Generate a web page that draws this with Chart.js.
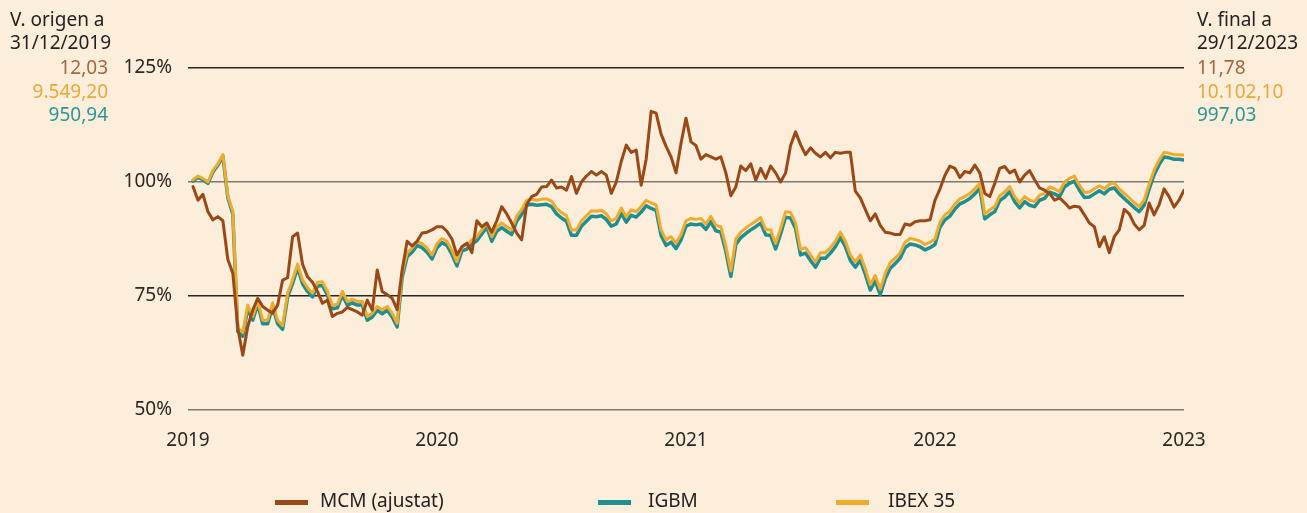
<!DOCTYPE html>
<html lang="ca">
<head>
  <meta charset="UTF-8">
  <title>MCM vs IGBM vs IBEX 35</title>
  <script src="https://cdn.jsdelivr.net/npm/chart.js@4.4.1/dist/chart.umd.min.js"></script>
  <style>
    html, body {
      margin: 0;
      padding: 0;
      background: #fdeedb;
    }
    #wrap {
      width: 1307px;
      height: 513px;
      position: relative;
    }
  </style>
</head>
<body>
  <div id="wrap"><canvas id="chart"></canvas></div>

  <script>
    // weekly-ish samples, base 100 = 31/12/2019
    const years = ['2019', '2020', '2021', '2022', '2023'];
    const perYear = 50;

    const mcm = [null,
      99.0, 96.0, 97.3, 93.5, 91.7, 92.4, 91.5, 83.0, 80.0, 68.0,
      62.0, 68.3, 71.9, 74.5, 72.7, 71.9, 71.2, 73.0, 78.5, 79.0,
      88.0, 88.8, 82.0, 79.2, 78.0, 76.0, 73.4, 74.1, 70.5, 71.2,
      71.5, 72.5, 72.0, 71.5, 70.8, 74.1, 71.9, 80.7, 76.0, 75.3,
      74.5, 72.0, 80.7, 87.0, 86.0, 87.0, 88.8, 89.0, 89.5, 90.2,
      90.2, 89.2, 87.5, 84.0, 85.8, 86.6, 84.5, 91.5, 90.2, 91.0,
      89.0, 91.5, 94.6, 93.0, 91.0, 88.8, 87.3, 95.0, 96.8, 97.3,
      98.9, 99.0, 100.4, 98.7, 98.9, 98.2, 101.2, 97.5, 100.0, 101.3,
      102.3, 101.5, 102.3, 101.5, 97.5, 100.0, 104.5, 108.1, 106.5, 107.0,
      99.3, 105.0, 115.5, 115.1, 110.5, 107.8, 105.5, 102.0, 108.5, 114.0,
      108.8, 108.0, 105.0, 106.0, 105.5, 105.0, 105.5, 102.0, 97.0, 98.9,
      103.5, 102.5, 104.0, 100.4, 103.0, 100.8, 103.5, 102.0, 100.0, 102.0,
      108.0, 111.0, 108.2, 106.0, 107.5, 106.3, 105.5, 106.5, 105.3, 106.5,
      106.3, 106.5, 106.5, 98.0, 96.5, 94.0, 91.5, 93.0, 90.5, 89.0,
      88.8, 88.5, 88.5, 90.8, 90.5, 91.3, 91.5, 91.5, 91.7, 96.0,
      98.5, 101.5, 103.5, 103.0, 101.0, 102.3, 102.0, 103.7, 102.0, 97.5,
      96.8, 99.7, 103.0, 103.4, 102.0, 102.6, 100.0, 101.5, 102.5, 100.5,
      98.7, 98.2, 97.5, 96.0, 96.5, 95.5, 94.3, 94.7, 94.5, 92.8,
      91.0, 90.2, 85.8, 88.0, 84.5, 88.0, 89.5, 94.0, 93.0, 90.8,
      89.5, 90.5, 95.4, 92.8, 95.0, 98.5, 96.8, 94.5, 96.0, 98.2
    ];

    const ibex = [null,
      100.5, 101.3, 100.8, 100.0, 102.5, 104.0, 106.0, 97.0, 93.5, 68.0,
      67.0, 73.0, 70.5, 74.0, 69.7, 69.7, 73.5, 69.7, 68.5, 75.6,
      78.5, 82.0, 78.5, 76.8, 75.6, 78.0, 78.1, 76.0, 73.0, 73.2,
      76.0, 73.8, 74.3, 73.8, 73.8, 70.5, 71.2, 72.7, 71.9, 72.7,
      71.2, 69.0, 80.0, 84.5, 85.5, 87.0, 86.5, 85.5, 84.0, 86.5,
      87.6, 87.0, 85.0, 82.5, 85.8, 86.2, 87.3, 88.0, 89.5, 91.0,
      88.0, 90.2, 91.0, 90.2, 89.5, 92.5, 94.0, 96.0, 96.2, 96.0,
      96.2, 96.3, 95.8, 94.2, 93.3, 92.6, 89.5, 89.5, 91.5, 92.6,
      93.7, 93.6, 93.8, 93.0, 91.5, 92.0, 94.3, 92.4, 93.9, 93.5,
      94.6, 96.0, 95.4, 95.0, 89.5, 87.3, 88.0, 86.6, 88.5, 91.5,
      92.0, 91.8, 92.0, 90.8, 92.5, 90.5, 90.2, 86.0, 80.5, 87.5,
      89.0, 89.9, 90.7, 91.4, 92.2, 89.6, 89.5, 86.5, 89.8, 93.5,
      93.3, 91.0, 85.2, 85.6, 84.0, 82.5, 84.5, 84.5, 85.6, 87.0,
      89.0, 87.0, 84.0, 82.5, 84.0, 81.0, 77.5, 79.5, 76.5, 80.0,
      82.3, 83.3, 84.5, 86.8, 87.6, 87.4, 87.0, 86.3, 86.8, 87.5,
      91.2, 92.8, 93.6, 95.2, 96.3, 96.8, 97.5, 98.5, 99.7, 93.0,
      93.9, 94.6, 97.0, 97.8, 99.0, 96.8, 95.4, 96.8, 96.0, 95.7,
      97.1, 97.5, 98.9, 98.5, 97.9, 100.0, 100.8, 101.3, 99.3, 97.7,
      97.8, 98.5, 99.2, 98.5, 99.5, 99.8, 98.5, 97.5, 96.5, 95.5,
      94.6, 96.0, 99.5, 102.6, 104.8, 106.5, 106.3, 106.0, 106.0, 105.9
    ];

    const igbm = [null,
      100.2, 101.0, 100.5, 99.7, 102.2, 103.7, 105.7, 96.6, 92.9, 67.2,
      66.2, 72.2, 69.7, 73.2, 68.9, 68.9, 72.7, 68.9, 67.7, 74.8,
      77.7, 81.2, 77.7, 76.0, 74.8, 77.2, 77.3, 75.2, 72.2, 72.4,
      75.2, 73.0, 73.5, 73.0, 73.0, 69.7, 70.4, 71.9, 71.1, 71.9,
      70.4, 68.2, 79.1, 83.6, 84.6, 86.1, 85.6, 84.6, 83.1, 85.6,
      86.7, 86.1, 84.1, 81.6, 84.9, 85.3, 86.4, 87.1, 88.6, 90.1,
      87.0, 89.2, 90.0, 89.2, 88.5, 91.4, 92.9, 94.9, 95.1, 94.9,
      95.0, 95.1, 94.6, 93.0, 92.1, 91.4, 88.3, 88.3, 90.3, 91.4,
      92.5, 92.4, 92.6, 91.8, 90.3, 90.8, 93.1, 91.2, 92.7, 92.3,
      93.4, 94.8, 94.2, 93.8, 88.3, 86.1, 86.8, 85.4, 87.3, 90.3,
      90.8, 90.6, 90.8, 89.6, 91.3, 89.3, 89.0, 84.8, 79.3, 86.3,
      87.8, 88.7, 89.5, 90.2, 91.0, 88.4, 88.3, 85.3, 88.6, 92.3,
      92.1, 89.8, 84.0, 84.4, 82.8, 81.3, 83.3, 83.3, 84.4, 85.8,
      87.8, 85.8, 82.8, 81.3, 82.8, 79.8, 76.3, 78.3, 75.3, 78.8,
      81.1, 82.1, 83.3, 85.6, 86.4, 86.2, 85.8, 85.1, 85.6, 86.3,
      90.1, 91.7, 92.5, 94.1, 95.2, 95.7, 96.4, 97.4, 98.6, 91.9,
      92.8, 93.5, 95.9, 96.7, 97.9, 95.7, 94.3, 95.7, 94.9, 94.6,
      96.0, 96.4, 97.8, 97.4, 96.8, 98.9, 99.7, 100.2, 98.2, 96.6,
      96.7, 97.4, 98.1, 97.4, 98.4, 98.7, 97.4, 96.4, 95.4, 94.4,
      93.5, 94.9, 98.4, 101.6, 103.8, 105.5, 105.3, 105.0, 105.0, 104.8
    ];

    const seriesNames = ['MCM (ajustat)', 'IBEX 35', 'IGBM'];
    const startValues = ['12,03', '9.549,20', '950,94'];   // MCM, IBEX, IGBM
    const endValues = ['11,78', '10.102,10', '997,03'];
    const yTicks = [50, 75, 100, 125];

    const colors = {
      mcm: '#9a4916',
      ibex: '#f0ab2c',
      igbm: '#1f8e8e'
    };
    const textColors = ['#a7663f', '#eba838', '#2b9696'];
    const FONT = '"Noto Sans", sans-serif';

    const labels = mcm.map((_, i) => i);

    // header values + custom legend
    const extras = {
      id: 'extras',
      afterDraw(chart) {
        const ctx = chart.ctx;
        ctx.save();
        ctx.font = '19px ' + FONT;
        ctx.textBaseline = 'middle';
        // left block
        ctx.fillStyle = '#222';
        ctx.textAlign = 'left';
        ctx.fillText('V. origen a', 10, 21);
        ctx.fillText('31/12/2019', 10, 44);
        ctx.textAlign = 'right';
        const ys = [69, 93, 116];
        startValues.forEach((v, i) => {
          ctx.fillStyle = textColors[i];
          ctx.fillText(v, 108, ys[i]);
        });
        // right block
        ctx.textAlign = 'left';
        ctx.fillStyle = '#222';
        ctx.fillText('V. final a', 1197, 21);
        ctx.fillText('29/12/2023', 1197, 44);
        endValues.forEach((v, i) => {
          ctx.fillStyle = textColors[i];
          ctx.fillText(v, 1197, ys[i]);
        });
        // legend
        const items = [
          { label: seriesNames[0], color: colors.mcm, x: 275, tx: 320 },
          { label: seriesNames[2], color: colors.igbm, x: 598, tx: 648 },
          { label: seriesNames[1], color: colors.ibex, x: 836, tx: 888 }
        ];
        items.forEach(it => {
          ctx.fillStyle = it.color;
          ctx.fillRect(it.x, 500, 33, 5);
          ctx.fillStyle = '#222';
          ctx.fillText(it.label, it.tx, 502);
        });
        ctx.restore();
      }
    };

    const gridColor = v => (v === 125 || v === 75) ? '#262320' : '#7c7872';

    new Chart(document.getElementById('chart'), {
      type: 'line',
      plugins: [extras],
      data: {
        labels,
        datasets: [
          { label: seriesNames[0], data: mcm, borderColor: colors.mcm, borderWidth: 3 },
          { label: seriesNames[1], data: ibex, borderColor: colors.ibex, borderWidth: 3 },
          { label: seriesNames[2], data: igbm, borderColor: colors.igbm, borderWidth: 3.5 }
        ]
      },
      options: {
        responsive: true,
        maintainAspectRatio: false,
        animation: false,
        layout: { padding: { top: 68, right: 123, left: 0, bottom: 0 } },
        elements: {
          point: { radius: 0 },
          line: { tension: 0, borderJoinStyle: 'round', borderCapStyle: 'round' }
        },
        plugins: {
          legend: { display: false },
          tooltip: { enabled: false }
        },
        scales: {
          x: {
            type: 'linear',
            min: 0,
            max: perYear * (years.length - 1),
            border: { display: false },
            grid: { display: false },
            afterFit(scale) { scale.height = 103; },
            afterBuildTicks(scale) {
              scale.ticks = years.map((_, i) => ({ value: i * perYear }));
            },
            ticks: {
              padding: 11,
              maxRotation: 0,
              color: '#2a2724',
              font: { family: FONT, size: 19 },
              callback: v => years[v / perYear]
            }
          },
          y: {
            min: 50,
            max: 125,
            border: { display: false },
            afterFit(scale) { scale.width = 188; },
            afterBuildTicks(scale) {
              scale.ticks = yTicks.map(v => ({ value: v }));
            },
            grid: {
              drawTicks: false,
              color: ctx => gridColor(ctx.tick.value),
              lineWidth: 1.6
            },
            ticks: {
              padding: 16,
              color: '#2a2724',
              font: { family: FONT, size: 19 },
              callback: v => v + '%'
            }
          }
        }
      }
    });
  </script>
</body>
</html>
